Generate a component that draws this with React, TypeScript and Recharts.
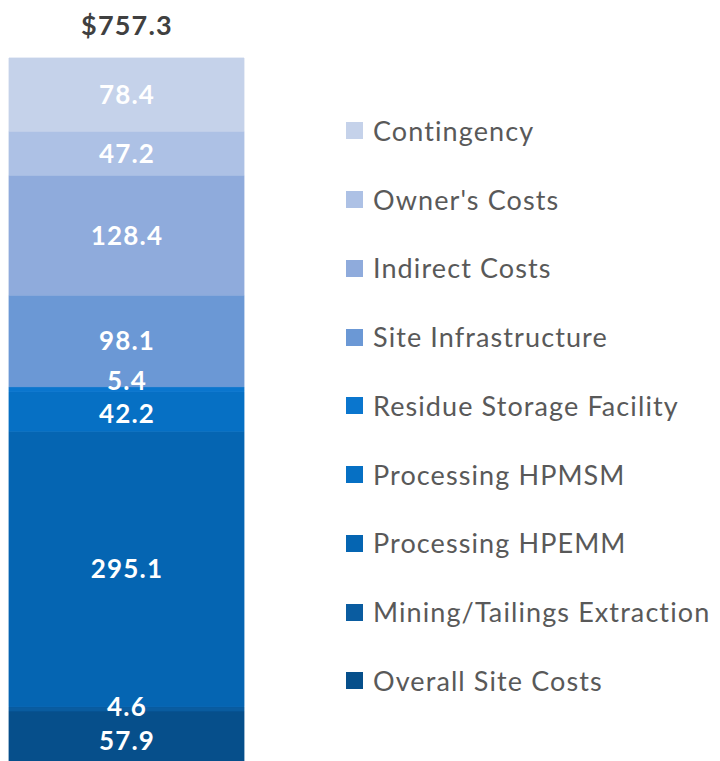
import React from 'react';
import { BarChart, Bar, XAxis, YAxis, LabelList, Legend } from 'recharts';

const categories = ['Capital Cost'];
const seriesNames = [
  'Overall Site Costs',
  'Mining/Tailings Extraction',
  'Processing HPEMM',
  'Processing HPMSM',
  'Residue Storage Facility',
  'Site Infrastructure',
  'Indirect Costs',
  "Owner's Costs",
  'Contingency',
];
const seriesValues = [57.9, 4.6, 295.1, 42.2, 5.4, 98.1, 128.4, 47.2, 78.4];
const totalValue = 757.3;
const totalLabel = '$757.3';

const seriesColors = [
  '#064F8B',
  '#0A5CA0',
  '#0565B2',
  '#0670C4',
  '#0A76CE',
  '#6B98D5',
  '#8FABDC',
  '#ADC1E5',
  '#C5D2EA',
];
const labelShiftY = [3, -2, 0, 2, -9, 0, 0, 0, 0];

const FONT = 'Lato, "Open Sans", sans-serif';

const data = categories.map((c) => {
  const row: Record<string, any> = { category: c, total: totalValue };
  seriesValues.forEach((v, i) => {
    row[`s${i}`] = v;
  });
  return row;
});

const makeLabel = (i: number) => (props: any) => {
  const vb = props.viewBox || props;
  const x = Number(vb.x);
  const y = Number(vb.y);
  const w = Number(vb.width);
  const h = Number(vb.height);
  const cx = x + w / 2;
  const cy = y + h / 2 + labelShiftY[i];
  return (
    <text
      x={cx + 0.5}
      y={cy + 9.5}
      textAnchor="middle"
      fill="#FFFFFF"
      fontFamily={FONT}
      fontWeight={700}
      fontSize={26}
      letterSpacing={1.2}
    >
      {seriesValues[i].toFixed(1)}
    </text>
  );
};

const renderTotal = (props: any) => {
  const vb = props.viewBox || props;
  const x = Number(vb.x);
  const y = Number(vb.y);
  const w = Number(vb.width);
  return (
    <text
      x={x + w / 2 + 0.5}
      y={y - 23}
      textAnchor="middle"
      fill="#404040"
      fontFamily={FONT}
      fontWeight={700}
      fontSize={27}
      letterSpacing={1.2}
    >
      {totalLabel}
    </text>
  );
};

const renderLegend = () => {
  const order = seriesNames.map((n, i) => i).reverse();
  return (
    <div style={{ fontFamily: FONT }}>
      {order.map((i) => (
        <div
          key={i}
          style={{
            height: 68.75,
            display: 'flex',
            alignItems: 'center',
          }}
        >
          <span
            style={{
              display: 'inline-block',
              width: 17,
              height: 17,
              background: seriesColors[i],
              marginRight: 10,
              flex: '0 0 auto',
            }}
          />
          <span
            style={{
              fontSize: 27,
              color: '#595959',
              whiteSpace: 'nowrap',
              lineHeight: '30px',
              letterSpacing: 1.1,
            }}
          >
            {seriesNames[i]}
          </span>
        </div>
      ))}
    </div>
  );
};

export default function App() {
  return (
    <div
      style={{
        position: 'fixed',
        left: 0,
        top: 0,
        width: 720,
        height: 761,
        overflow: 'hidden',
        background: '#FFFFFF',
      }}
    >
      <BarChart
        width={720}
        height={770}
        data={data}
        margin={{ top: 58, right: 476, bottom: 5, left: 9 }}
        barCategoryGap={0}
      >
        <XAxis dataKey="category" hide />
        <YAxis hide domain={[0, totalValue]} type="number" />
        {seriesNames.map((n, i) => (
          <Bar
            key={n}
            dataKey={`s${i}`}
            name={n}
            stackId="a"
            fill={seriesColors[i]}
            stroke={seriesColors[i]}
            strokeWidth={0.8}
            isAnimationActive={false}
          >
            <LabelList dataKey={`s${i}`} content={makeLabel(i)} />
            {i === seriesNames.length - 1 ? (
              <LabelList dataKey="total" content={renderTotal} />
            ) : null}
          </Bar>
        ))}
        <Legend
          layout="horizontal"
          verticalAlign="middle"
          align="center"
          wrapperStyle={{ left: 346, top: 96.6, width: 374 }}
          content={renderLegend}
        />
      </BarChart>
    </div>
  );
}
